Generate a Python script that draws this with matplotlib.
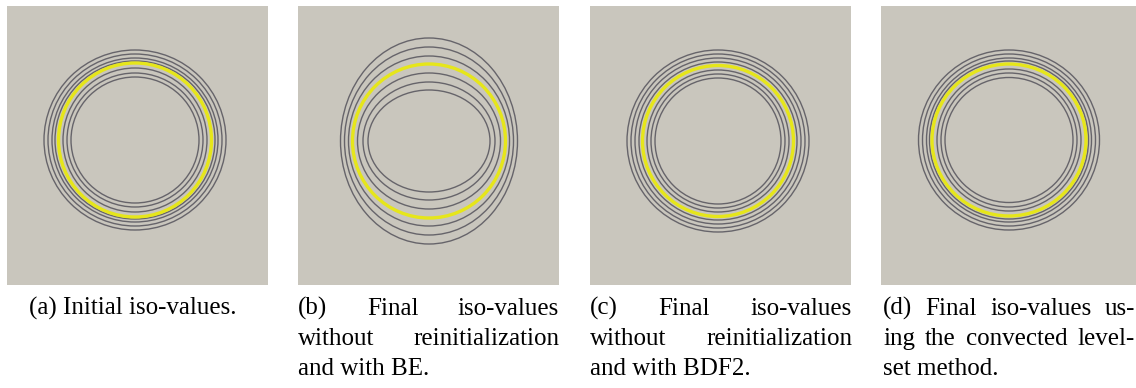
import matplotlib
matplotlib.use("Agg")
import matplotlib.pyplot as plt
from matplotlib.patches import Ellipse

## 图像尺寸 (像素)
W, H = 1136, 388
DPI = 100

## 各子图位置 (左, 上, 宽, 高), 像素
panel_left = [7, 298, 590, 881]
panel_top = 6
panel_w, panel_h = 261, 279

## 等值线: 中心和半轴 (像素, 相对子图左上角), 从外到内
center_x = [128, 131, 128, 128]
center_y = [134, 135, 135, 134]
semi_x = [
    [91, 87, 83, 80, 76.5, 72, 68, 64],
    [88.5, 84.5, 80.5, 76.5, 71.5, 66, 61],
    [91, 87, 83, 79, 75.5, 71, 67, 63],
    [90.5, 86.5, 82.5, 79.5, 77, 72, 68, 64],
]
semi_y = [
    [90, 86, 82, 79, 77, 72, 67, 63],
    [103, 94, 85, 77, 68, 59, 51],
    [91, 87, 83, 79, 75.5, 71, 67, 63],
    [90, 86, 82, 79, 76, 71, 67, 62.5],
]
zero_idx = [4, 3, 4, 4]  # 零等值线 (黄色)

## 图注
captions = [
    ["(a) Initial iso-values."],
    ["(b) Final iso-values", "without reinitialization", "and with BE."],
    ["(c) Final iso-values", "without reinitialization", "and with BDF2."],
    ["(d) Final iso-values us-", "ing the convected level-", "set method."],
]
cap_left = [29, 298, 590, 883]
cap_right = [236, 559, 852, 1135]
baselines = [315, 345, 375]

bg = "#c9c6bd"
line_c = "#55535c"
yellow = "#e6e61a"

fig = plt.figure(figsize=(W / DPI, H / DPI), dpi=DPI)
fig.patch.set_facecolor("white")

for k in range(4):
    ax = fig.add_axes([panel_left[k] / W, 1 - (panel_top + panel_h) / H,
                       panel_w / W, panel_h / H])
    ax.set_facecolor(bg)
    ax.set_xlim(0, panel_w)
    ax.set_ylim(panel_h, 0)
    ax.set_xticks([])
    ax.set_yticks([])
    for s in ax.spines.values():
        s.set_visible(False)
    for i in range(len(semi_x[k])):
        if i == zero_idx[k]:
            continue
        ax.add_patch(Ellipse((center_x[k], center_y[k]), 2 * semi_x[k][i], 2 * semi_y[k][i],
                             fill=False, ec=line_c, lw=1.0, alpha=0.85))
    i = zero_idx[k]
    ax.add_patch(Ellipse((center_x[k], center_y[k]), 2 * semi_x[k][i], 2 * semi_y[k][i],
                         fill=False, ec=yellow, lw=2.4))

fs = 18
fam = ["Liberation Serif", "DejaVu Serif"]
fig.canvas.draw()
renderer = fig.canvas.get_renderer()

def put(x, y, s):
    return fig.text(x / W, 1 - y / H, s, fontsize=fs, family=fam, va="baseline", ha="left")

for k in range(4):
    lines = captions[k]
    for j, line in enumerate(lines):
        y = baselines[j]
        if len(lines) == 1:
            t = put(0, y, line)
            w = t.get_window_extent(renderer).width
            t.set_x(((cap_left[k] + cap_right[k]) / 2 - w / 2) / W)
        elif j == len(lines) - 1:
            put(cap_left[k], y, line)
        else:
            ## 两端对齐
            words = line.split(" ")
            texts = [put(0, y, wd) for wd in words]
            widths = [t.get_window_extent(renderer).width for t in texts]
            gap = (cap_right[k] - cap_left[k] - sum(widths)) / (len(words) - 1)
            x = cap_left[k]
            for t, w in zip(texts, widths):
                t.set_x(x / W)
                x += w + gap

fig.savefig("out.png", dpi=DPI)
